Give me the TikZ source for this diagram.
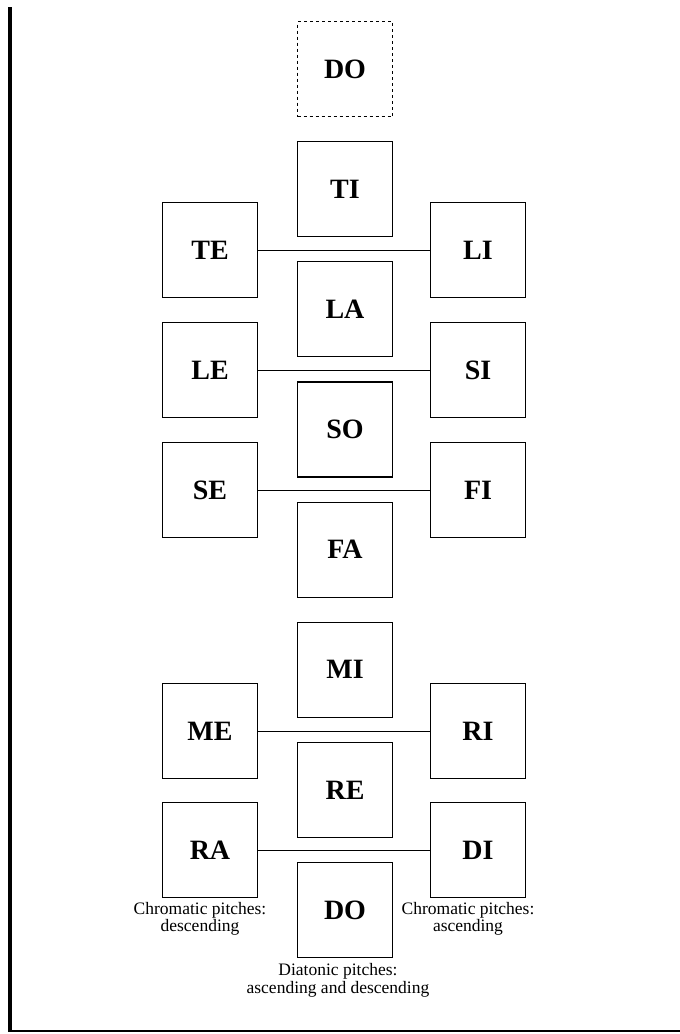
\documentclass[tikz,border=0pt]{standalone}
\usepackage{fontspec}
\setmainfont{Liberation Serif}
\usetikzlibrary{positioning}

\begin{document}
\begin{tikzpicture}[
  x=1pt, y=-1pt,
  node distance=24pt and 20pt,
  box/.style={draw, minimum width=95pt, minimum height=95pt, line width=1.2pt,
              inner sep=0pt, font=\fontsize{28}{30}\selectfont\bfseries},
  faintbox/.style={box, dashed, line width=.8pt},
  link/.style={line width=.9pt},
  caption/.style={align=center, inner sep=1pt, font=\fontsize{17.5}{17.5}\selectfont},
]
  \useasboundingbox (0,0) rectangle (680,1034);
  % frame edges from the page
  \draw[line width=3.5pt] (10,7) -- (10,1031);
  \draw[line width=1.6pt] (8,1031) -- (680,1031);

  % diatonic column
  \node[faintbox] (doHigh) at (345,69) {DO};
  \node[box, below=of doHigh] (ti) {TI};
  \node[box, below=of ti] (la) {LA};
  \node[box, below=of la] (so) {SO};
  \node[box, below=of so] (fa) {FA};
  \node[box, below=of fa] (mi) {MI};
  \node[box, below=of mi] (re) {RE};
  \node[box, below=of re] (doLow) {DO};

  % chromatic pitches, descending and ascending
  \node[box] (te) at (210,250) {TE};
  \node[box] (le) at (210,370) {LE};
  \node[box] (se) at (210,490) {SE};
  \node[box] (me) at (210,731) {ME};
  \node[box] (ra) at (210,850) {RA};
  \node[box] (li) at (478,250) {LI};
  \node[box] (si) at (478,370) {SI};
  \node[box] (fi) at (478,490) {FI};
  \node[box] (ri) at (478,731) {RI};
  \node[box] (di) at (478,850) {DI};

  \draw[link] (te) -- (li);
  \draw[link] (le) -- (si);
  \draw[link] (se) -- (fi);
  \draw[link] (me) -- (ri);
  \draw[link] (ra) -- (di);

  \node[caption, below=3pt of ra, xshift=-10pt] (descCap) {Chromatic pitches:\\descending};
  \node[caption, below=3pt of di, xshift=-10pt] (ascCap) {Chromatic pitches:\\ascending};
  \node[caption, below=4pt of doLow, xshift=-7pt] (diaCap) {Diatonic pitches:\\ascending and descending};
\end{tikzpicture}
\end{document}
